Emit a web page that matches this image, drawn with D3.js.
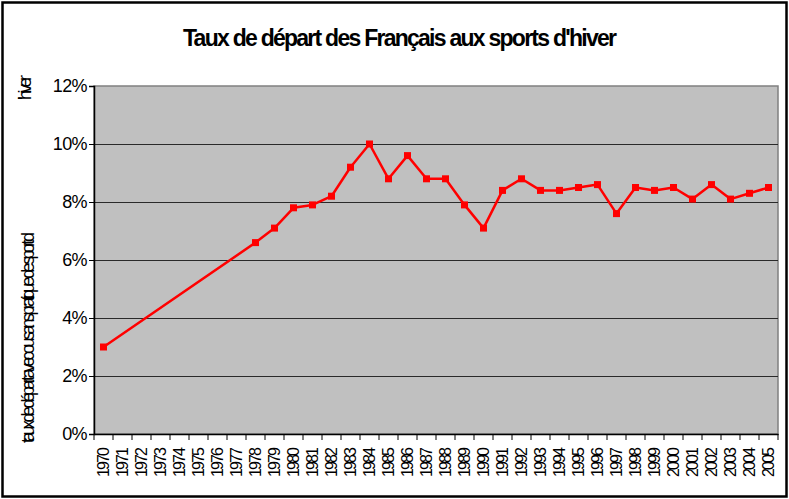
<!DOCTYPE html>
<html>
<head>
<meta charset="utf-8">
<script src="https://cdn.jsdelivr.net/npm/d3@7"></script>
<style>
  body { margin: 0; background: #fff; }
  svg { font-family: "Liberation Sans", Arial, sans-serif; }
</style>
</head>
<body>
<svg id="chart" width="789" height="499"></svg>
<script>
// annees (categories)
const years = ["1970","1971","1972","1973","1974","1975","1976","1977","1978","1979",
  "1980","1981","1982","1983","1984","1985","1986","1987","1988","1989",
  "1990","1991","1992","1993","1994","1995","1996","1997","1998","1999",
  "2000","2001","2002","2003","2004","2005"];

// taux de depart (%), null = pas de donnee
const rates = [3.0, null, null, null, null, null, null, null, 6.6, 7.1,
  7.8, 7.9, 8.2, 9.2, 10.0, 8.8, 9.6, 8.8, 8.8, 7.9,
  7.1, 8.4, 8.8, 8.4, 8.4, 8.5, 8.6, 7.6, 8.5, 8.4,
  8.5, 8.1, 8.6, 8.1, 8.3, 8.5];

const yTicks = [0, 2, 4, 6, 8, 10, 12];

const title = "Taux de départ des Français aux sports d'hiver";
const yLabel1 = "taux de départ avec ou sans pratique de sport d";
const yLabel2 = "'hiver";

const width = 789, height = 499;
const plot = { left: 94, right: 778, top: 86, bottom: 434 };

const svg = d3.select("#chart");

// cadre exterieur
svg.append("rect")
  .attr("x", 2.5).attr("y", 2.5)
  .attr("width", width - 5).attr("height", height - 5)
  .attr("fill", "#fff")
  .attr("stroke", "#000")
  .attr("stroke-width", 2.5);

const x = d3.scaleBand()
  .domain(years)
  .range([plot.left, plot.right])
  .padding(0);

const y = d3.scaleLinear()
  .domain([0, 12])
  .range([plot.bottom, plot.top]);

// fond gris
svg.append("rect")
  .attr("x", plot.left).attr("y", plot.top)
  .attr("width", plot.right - plot.left)
  .attr("height", plot.bottom - plot.top)
  .attr("fill", "#c0c0c0")
  .attr("stroke", "#808080")
  .attr("stroke-width", 1.5);

// grille
svg.append("g")
  .selectAll("line")
  .data(yTicks.filter(d => d > 0 && d < 12))
  .join("line")
  .attr("x1", plot.left).attr("x2", plot.right)
  .attr("y1", d => Math.round(y(d)) + 0.5)
  .attr("y2", d => Math.round(y(d)) + 0.5)
  .attr("stroke", "#2a2a2a")
  .attr("stroke-width", 1.2);

// axe y
const yAxis = svg.append("g")
  .attr("transform", `translate(${plot.left},0)`)
  .call(d3.axisLeft(y).tickValues(yTicks).tickFormat(d => d + "%").tickSize(5).tickPadding(2));
yAxis.select(".domain").attr("stroke", "#000").attr("stroke-width", 1.5);
yAxis.selectAll(".tick line").attr("stroke", "#000");
yAxis.selectAll(".tick text")
  .attr("font-size", 18)
  .attr("letter-spacing", -0.6)
  .attr("fill", "#000")
  .attr("font-family", "Liberation Sans, Arial, sans-serif");

// axe x : etiquettes
const xAxis = svg.append("g")
  .attr("transform", `translate(0,${plot.bottom})`)
  .call(d3.axisBottom(x).tickSize(0).tickPadding(0));
xAxis.select(".domain").attr("stroke", "#000").attr("stroke-width", 1.5);
xAxis.selectAll(".tick text")
  .attr("transform", "translate(0,13) rotate(-90)")
  .attr("text-anchor", "end")
  .attr("dy", "0.36em")
  .attr("y", 0)
  .attr("x", 0)
  .attr("font-size", 16)
  .attr("textLength", 30)
  .attr("lengthAdjust", "spacing")
  .attr("fill", "#000")
  .attr("font-family", "Liberation Sans, Arial, sans-serif");

// axe x : graduations aux limites des categories
svg.append("g")
  .selectAll("line")
  .data(years.concat(["end"]))
  .join("line")
  .attr("x1", (d, i) => plot.left + i * x.step())
  .attr("x2", (d, i) => plot.left + i * x.step())
  .attr("y1", plot.bottom)
  .attr("y2", plot.bottom + 6)
  .attr("stroke", "#000")
  .attr("stroke-width", 1);

// serie
const pts = years.map((yr, i) => ({ yr, v: rates[i] })).filter(d => d.v !== null);

const line = d3.line()
  .x(d => x(d.yr) + x.bandwidth() / 2)
  .y(d => y(d.v));

svg.append("path")
  .datum(pts)
  .attr("d", line)
  .attr("fill", "none")
  .attr("stroke", "#ff0000")
  .attr("stroke-width", 2.5)
  .attr("stroke-linejoin", "round");

svg.append("g")
  .selectAll("rect")
  .data(pts)
  .join("rect")
  .attr("x", d => x(d.yr) + x.bandwidth() / 2 - 3.5)
  .attr("y", d => y(d.v) - 3.5)
  .attr("width", 7)
  .attr("height", 7)
  .attr("fill", "#ff0000");

// titre
svg.append("text")
  .attr("x", 400)
  .attr("y", 46)
  .attr("text-anchor", "middle")
  .attr("font-size", 23)
  .attr("font-weight", "bold")
  .attr("textLength", 434)
  .attr("lengthAdjust", "spacing")
  .text(title);

// titre de l'axe y (coupe en deux comme dans l'original)
svg.append("text")
  .attr("transform", "translate(34,443) rotate(-90)")
  .attr("font-size", 18)
  .attr("textLength", 211)
  .attr("lengthAdjust", "spacing")
  .text(yLabel1);

svg.append("text")
  .attr("transform", "translate(31,100) rotate(-90)")
  .attr("font-size", 18)
  .attr("textLength", 25)
  .attr("lengthAdjust", "spacing")
  .text(yLabel2);
</script>
</body>
</html>
